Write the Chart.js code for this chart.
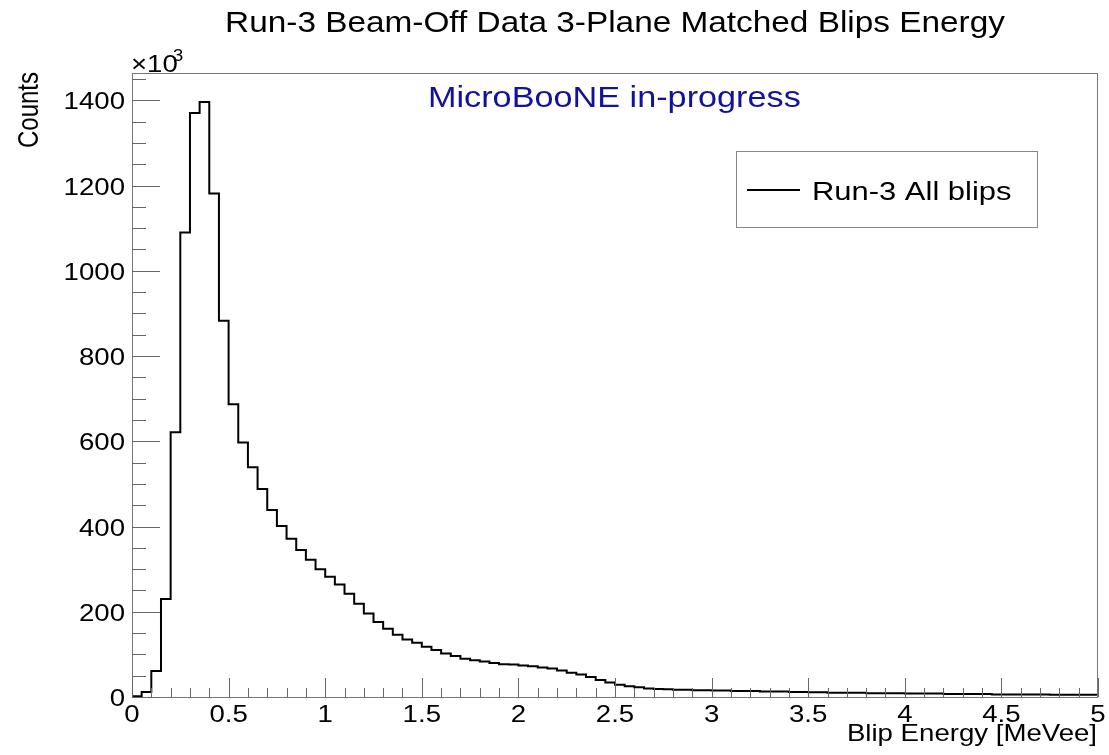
<!DOCTYPE html>
<html>
<head>
<meta charset="utf-8">
<script src="https://cdn.jsdelivr.net/npm/chart.js@4"></script>
<style>
  body { margin: 0; background: #fff; }
  canvas { display: block; }
</style>
</head>
<body>
<canvas id="hist" width="1109" height="755"></canvas>
<script>
// histogram: 100 bins of 0.05 MeVee from 0 to 5, counts in units of 10^3
const xMin = 0;
const xMax = 5;
const binWidth = 0.05;
const countsK = [
  2, 12, 61, 230, 621, 1090, 1370, 1396, 1181, 883,
  687, 597, 539, 488, 439, 401, 371, 345, 322, 300,
  282, 264, 242, 219, 196, 176, 160, 146, 135, 127,
  118, 110, 102, 96, 90, 86, 83, 80, 77, 76,
  74, 72, 69, 67, 62, 57, 53, 47, 40, 34,
  29, 25, 23, 20, 19, 18, 17, 17, 16, 16,
  15, 15, 14, 14, 14, 13, 13, 13, 12, 12,
  11, 11, 10, 10, 10, 10, 9, 9, 9, 9,
  8, 8, 8, 8, 7, 7, 7, 7, 7, 6,
  6, 6, 6, 6, 6, 5, 5, 5, 5, 5
];
const xTicks = [0, 0.5, 1, 1.5, 2, 2.5, 3, 3.5, 4, 4.5, 5];
const xTickLabels = ['0', '0.5', '1', '1.5', '2', '2.5', '3', '3.5', '4', '4.5', '5'];
const yTicks = [0, 200, 400, 600, 800, 1000, 1200, 1400];
const yTickLabels = ['0', '200', '400', '600', '800', '1000', '1200', '1400'];
const yMax = 1464;

const titleText = 'Run-3 Beam-Off Data 3-Plane Matched Blips Energy';
const xTitle = 'Blip Energy [MeVee]';
const yTitle = 'Counts';
const legendLabel = 'Run-3 All blips';
const tagText = 'MicroBooNE in-progress';

// step points: left edge of each bin, plus the right edge of the last one
const points = countsK.map((c, i) => ({ x: xMin + i * binWidth, y: c }));
points.push({ x: xMax, y: countsK[countsK.length - 1] });

const FONT = '"Liberation Sans", Arial, Helvetica, sans-serif';

function stretchText(ctx, text, x, y, size, align, sx) {
  ctx.save();
  ctx.translate(x, y);
  ctx.scale(sx, 1);
  ctx.font = size + 'px ' + FONT;
  ctx.textAlign = align;
  ctx.textBaseline = 'alphabetic';
  ctx.fillText(text, 0, 0);
  ctx.restore();
}

// ROOT-like frame, inner ticks and all the text
const rootStyle = {
  id: 'rootStyle',
  afterDraw(chart) {
    const { ctx, chartArea: a, scales } = chart;
    const xs = scales.x, ys = scales.y;
    ctx.save();

    // frame
    ctx.strokeStyle = '#777';
    ctx.lineWidth = 1;
    ctx.strokeRect(a.left + 0.5, a.top + 0.5, a.right - a.left - 1, a.bottom - a.top);

    // ticks
    ctx.strokeStyle = '#666';
    ctx.beginPath();
    for (let v = 0; v <= yMax; v += 50) {
      const py = Math.round(ys.getPixelForValue(v)) + 0.5;
      const len = v % 200 === 0 ? 28 : 14;
      ctx.moveTo(a.left, py); ctx.lineTo(a.left + len, py);
    }
    for (let k = 0; k <= 50; k++) {
      const px = Math.round(xs.getPixelForValue(k * 0.1)) + 0.5;
      const len = k % 5 === 0 ? 19 : 9;
      ctx.moveTo(px, a.bottom); ctx.lineTo(px, a.bottom - len);
    }
    ctx.stroke();

    ctx.fillStyle = '#000';
    // tick labels
    yTicks.forEach((v, i) => {
      stretchText(ctx, yTickLabels[i], a.left - 7, ys.getPixelForValue(v) + 9, 24, 'right', 1.15);
    });
    xTicks.forEach((v, i) => {
      stretchText(ctx, xTickLabels[i], xs.getPixelForValue(v), a.bottom + 25, 24, 'center', 1.15);
    });

    // exponent
    stretchText(ctx, '\u00d710', a.left - 1, a.top - 1, 24, 'left', 1.15);
    stretchText(ctx, '3', a.left + 41, a.top - 12, 16, 'left', 1.15);

    // titles
    stretchText(ctx, titleText, (a.left + a.right) / 2, 32, 29, 'center', 1.15);
    stretchText(ctx, xTitle, a.right - 1, 741, 24, 'right', 1.15);

    ctx.save();
    ctx.translate(38, a.top - 1);
    ctx.scale(1.2, 1);
    ctx.rotate(-Math.PI / 2);
    ctx.font = '24px ' + FONT;
    ctx.textAlign = 'right';
    ctx.fillText(yTitle, 0, 0);
    ctx.restore();

    // experiment tag
    ctx.fillStyle = '#12129a';
    stretchText(ctx, tagText, 428, 107, 29, 'left', 1.18);

    // legend
    ctx.strokeStyle = '#888';
    ctx.strokeRect(736.5, 151.5, 301, 76);
    ctx.strokeStyle = '#000';
    ctx.lineWidth = 2;
    ctx.beginPath();
    ctx.moveTo(747, 190); ctx.lineTo(800, 190);
    ctx.stroke();
    ctx.fillStyle = '#000';
    stretchText(ctx, legendLabel, 812, 200, 26, 'left', 1.19);

    ctx.restore();
  }
};

new Chart(document.getElementById('hist'), {
  type: 'line',
  data: {
    datasets: [{
      label: legendLabel,
      data: points,
      stepped: 'before',
      borderColor: '#000',
      borderWidth: 2,
      pointRadius: 0,
      fill: false
    }]
  },
  options: {
    responsive: false,
    animation: false,
    layout: { padding: { top: 73, right: 11, left: 0, bottom: 0 } },
    plugins: { legend: { display: false }, title: { display: false }, tooltip: { enabled: false } },
    scales: {
      x: {
        type: 'linear', min: xMin, max: xMax,
        ticks: { display: false },
        grid: { display: false },
        border: { display: false },
        afterFit(s) { s.height = 58; }
      },
      y: {
        min: 0, max: yMax,
        ticks: { display: false },
        grid: { display: false },
        border: { display: false },
        afterFit(s) { s.width = 132; }
      }
    }
  },
  plugins: [rootStyle]
});
</script>
</body>
</html>
